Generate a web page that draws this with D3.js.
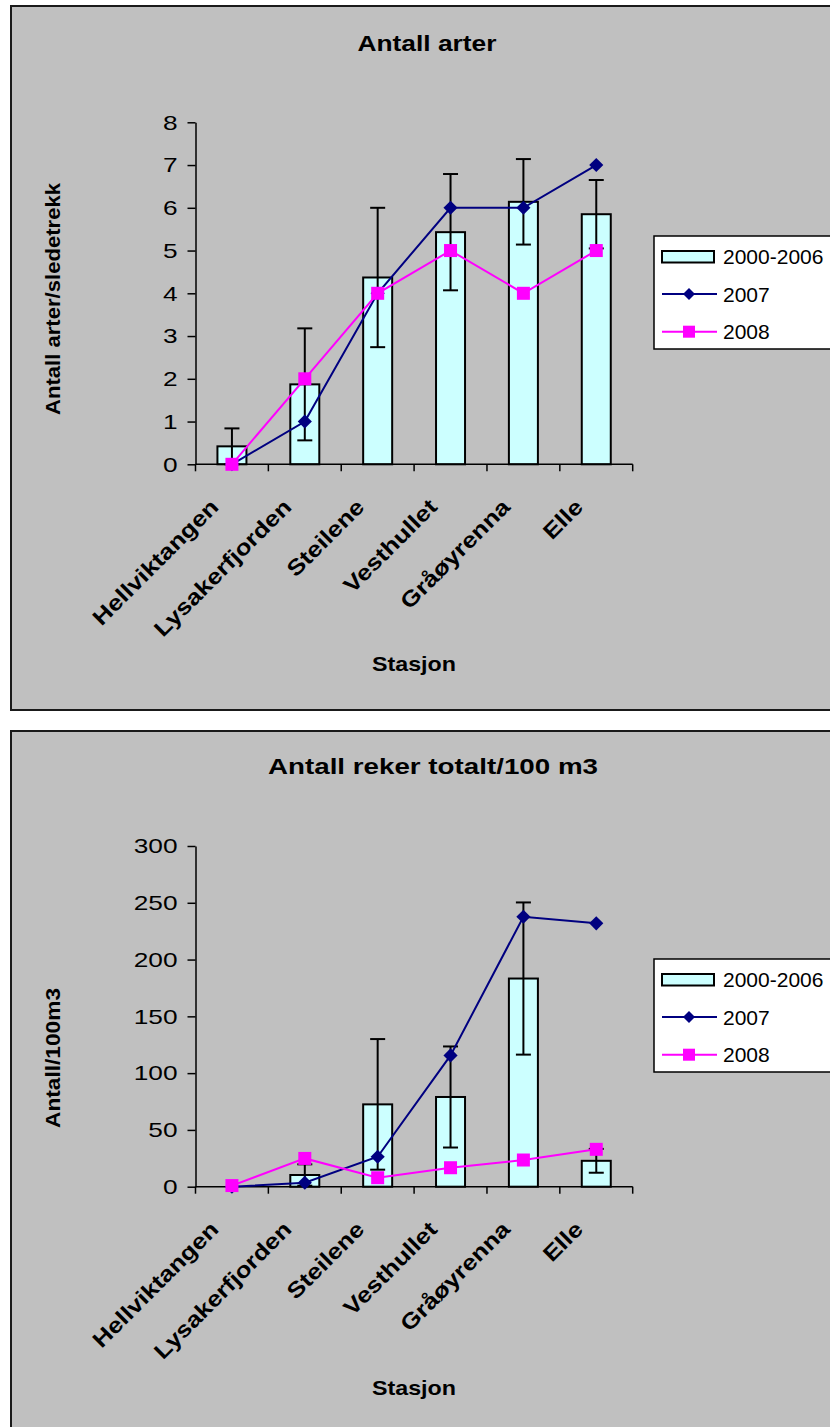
<!DOCTYPE html>
<html>
<head>
<meta charset="utf-8">
<script src="https://cdn.jsdelivr.net/npm/d3@7"></script>
<style>
  body { margin: 0; background: #fff; }
  svg { display: block; font-family: "Liberation Sans", Arial, sans-serif; }
</style>
</head>
<body>
<div id="chart"></div>
<script>
// stations along the x axis
var stations = ["Hellviktangen", "Lysakerfjorden", "Steilene", "Vesthullet", "Gråøyrenna", "Elle"];
var seriesNames = ["2000-2006", "2007", "2008"];

// Antall arter
var arterMean = [0.42, 1.87, 4.37, 5.43, 6.14, 5.85];
var arterErr = [0.42, 1.31, 1.63, 1.36, 1.0, 0.8];
var arter2007 = [0, 1, 4, 6, 6, 7];
var arter2008 = [0, 2, 4, 5, 4, 5];
var arterTicks = [0, 1, 2, 3, 4, 5, 6, 7, 8];

// Antall reker totalt/100 m3
var rekerMean = [0, 10.3, 72.5, 79, 183.3, 22.8];
var rekerErr = [0, 9.4, 57.5, 44.5, 67, 10.5];
var reker2007 = [0, 3.5, 26.4, 115.6, 237.7, 231.9];
var reker2008 = [1, 24.9, 7.9, 16.7, 23.5, 32.9];
var rekerTicks = [0, 50, 100, 150, 200, 250, 300];

var W = 830, H = 1427;

var svg = d3.select("#chart").append("svg")
    .attr("width", W)
    .attr("height", H);

var charts = [
    {
        top: 6, bottom: 710,
        title: "Antall arter", titleX: 427, titleY: 51, titleLen: 139,
        ylabel: "Antall arter/sledetrekk", ylabelLen: 232, ylabelY: 299,
        mean: arterMean, err: arterErr, s2007: arter2007, s2008: arter2008,
        ticks: arterTicks, yMax: 8,
        plotTop: 122.3, plotBottom: 464.3,
        legendY: 236,
        xlabelY: 671
    },
    {
        top: 731, bottom: 1440,
        title: "Antall reker totalt/100 m3", titleX: 433, titleY: 774, titleLen: 330,
        ylabel: "Antall/100m3", ylabelLen: 140, ylabelY: 1058,
        mean: rekerMean, err: rekerErr, s2007: reker2007, s2008: reker2008,
        ticks: rekerTicks, yMax: 300,
        plotTop: 846, plotBottom: 1186.7,
        legendY: 959,
        xlabelY: 1395
    }
];

// stretch text horizontally like the original export does
function widen(sel, factor) {
    sel.each(function() {
        var len = this.getComputedTextLength();
        d3.select(this)
            .attr("textLength", len * factor)
            .attr("lengthAdjust", "spacingAndGlyphs");
    });
}

function drawChart(c) {
    var g = svg.append("g");

    // chart area frame
    g.append("rect")
        .attr("x", 11).attr("y", c.top)
        .attr("width", 840).attr("height", c.bottom - c.top)
        .attr("fill", "#c0c0c0")
        .attr("stroke", "#1a1a1a")
        .attr("stroke-width", 2);

    var x = d3.scaleBand()
        .domain(stations)
        .range([195.5, 632.7])
        .padding(0);

    var y = d3.scaleLinear()
        .domain([0, c.yMax])
        .range([c.plotBottom, c.plotTop]);

    var barW = 29;
    var cx = function(i) { return x(stations[i]) + x.bandwidth() / 2; };

    // y axis
    var yAxis = g.append("g")
        .attr("transform", "translate(195.5,0)")
        .call(d3.axisLeft(y).tickValues(c.ticks).tickSize(8).tickSizeOuter(0).tickPadding(10));
    yAxis.selectAll("text")
        .attr("font-size", 21)
        .attr("font-family", "Liberation Sans, Arial, sans-serif")
        .attr("fill", "#000")
        .call(widen, 1.25);
    yAxis.selectAll("line, path").attr("stroke", "#000").attr("stroke-width", 1.5);

    var barData = c.mean.map(function(m, i) { return { m: m, e: c.err[i], i: i }; });

    // bars
    g.selectAll("rect.bar")
        .data(barData)
        .enter().append("rect")
        .attr("class", "bar")
        .attr("x", function(d) { return cx(d.i) - barW / 2; })
        .attr("y", function(d) { return y(d.m); })
        .attr("width", barW)
        .attr("height", function(d) { return y(0) - y(d.m); })
        .attr("fill", "#ccffff")
        .attr("stroke", "#000")
        .attr("stroke-width", 2);

    // x axis line + ticks at band edges
    g.append("line")
        .attr("x1", x.range()[0]).attr("x2", x.range()[1])
        .attr("y1", y(0)).attr("y2", y(0))
        .attr("stroke", "#000").attr("stroke-width", 1.5);
    var edges = stations.map(function(s) { return x(s); }).concat([x.range()[1]]);
    g.selectAll("line.xtick")
        .data(edges)
        .enter().append("line")
        .attr("x1", function(d) { return d; }).attr("x2", function(d) { return d; })
        .attr("y1", y(0)).attr("y2", y(0) + 7)
        .attr("stroke", "#000").attr("stroke-width", 1.5);

    // error bars
    var eb = g.selectAll("g.err")
        .data(barData.filter(function(d) { return d.e > 0; }))
        .enter().append("g");
    eb.append("line")
        .attr("x1", function(d) { return cx(d.i); })
        .attr("x2", function(d) { return cx(d.i); })
        .attr("y1", function(d) { return y(d.m - d.e); })
        .attr("y2", function(d) { return y(d.m + d.e); })
        .attr("stroke", "#000").attr("stroke-width", 2);
    [-1, 1].forEach(function(sign) {
        eb.append("line")
            .attr("x1", function(d) { return cx(d.i) - 7.5; })
            .attr("x2", function(d) { return cx(d.i) + 7.5; })
            .attr("y1", function(d) { return y(d.m + sign * d.e); })
            .attr("y2", function(d) { return y(d.m + sign * d.e); })
            .attr("stroke", "#000").attr("stroke-width", 2);
    });

    var line = d3.line()
        .x(function(d, i) { return cx(i); })
        .y(function(d) { return y(d); });

    // 2007
    g.append("path")
        .datum(c.s2007)
        .attr("d", line)
        .attr("fill", "none")
        .attr("stroke", "#000080")
        .attr("stroke-width", 2);
    g.selectAll("path.d7")
        .data(c.s2007)
        .enter().append("path")
        .attr("class", "d7")
        .attr("d", d3.symbol(d3.symbolSquare, 100)())
        .attr("transform", function(d, i) {
            return "translate(" + cx(i) + "," + y(d) + ") rotate(45)";
        })
        .attr("fill", "#000080");

    // 2008
    g.append("path")
        .datum(c.s2008)
        .attr("d", line)
        .attr("fill", "none")
        .attr("stroke", "#ff00ff")
        .attr("stroke-width", 2);
    g.selectAll("rect.d8")
        .data(c.s2008)
        .enter().append("rect")
        .attr("class", "d8")
        .attr("x", function(d, i) { return cx(i) - 6.5; })
        .attr("y", function(d) { return y(d) - 6.5; })
        .attr("width", 13).attr("height", 13)
        .attr("fill", "#ff00ff");

    // category labels, rotated
    g.selectAll("text.cat")
        .data(stations)
        .enter().append("text")
        .attr("class", "cat")
        .attr("text-anchor", "end")
        .attr("font-weight", "bold")
        .attr("font-size", 22)
        .attr("transform", function(d) {
            return "translate(" + (x(d) + x.bandwidth() / 2 - 12) + "," + (y(0) + 44) + ") rotate(-45)";
        })
        .text(function(d) { return d; })
        .call(widen, 1.17);

    // title
    g.append("text")
        .attr("x", c.titleX).attr("y", c.titleY)
        .attr("text-anchor", "middle")
        .attr("font-weight", "bold")
        .attr("font-size", 22)
        .attr("textLength", c.titleLen)
        .attr("lengthAdjust", "spacingAndGlyphs")
        .text(c.title);

    // y label
    g.append("text")
        .attr("transform", "translate(60," + c.ylabelY + ") rotate(-90)")
        .attr("text-anchor", "middle")
        .attr("font-weight", "bold")
        .attr("font-size", 21)
        .attr("textLength", c.ylabelLen)
        .attr("lengthAdjust", "spacingAndGlyphs")
        .text(c.ylabel);

    // x label
    g.append("text")
        .attr("x", 414).attr("y", c.xlabelY)
        .attr("text-anchor", "middle")
        .attr("font-weight", "bold")
        .attr("font-size", 21)
        .attr("textLength", 84)
        .attr("lengthAdjust", "spacingAndGlyphs")
        .text("Stasjon");

    // legend
    var lg = g.append("g").attr("transform", "translate(654," + c.legendY + ")");
    lg.append("rect")
        .attr("x", 0).attr("y", 0)
        .attr("width", 200).attr("height", 113)
        .attr("fill", "#fff")
        .attr("stroke", "#000").attr("stroke-width", 1.5);
    lg.append("rect")
        .attr("x", 8).attr("y", 15)
        .attr("width", 52).attr("height", 11.5)
        .attr("fill", "#ccffff")
        .attr("stroke", "#000").attr("stroke-width", 2);
    var lineColors = ["#000080", "#ff00ff"];
    [1, 2].forEach(function(k) {
        var ly = 20.5 + k * 37.6;
        lg.append("line")
            .attr("x1", 8).attr("x2", 63)
            .attr("y1", ly).attr("y2", ly)
            .attr("stroke", lineColors[k - 1]).attr("stroke-width", 2);
        if (k === 1) {
            lg.append("path")
                .attr("d", d3.symbol(d3.symbolSquare, 72)())
                .attr("transform", "translate(35," + ly + ") rotate(45)")
                .attr("fill", lineColors[0]);
        } else {
            lg.append("rect")
                .attr("x", 29).attr("y", ly - 6)
                .attr("width", 12).attr("height", 12)
                .attr("fill", lineColors[1]);
        }
    });
    lg.selectAll("text.leg")
        .data(seriesNames)
        .enter().append("text")
        .attr("class", "leg")
        .attr("x", 69)
        .attr("y", function(d, i) { return 28 + i * 37.6; })
        .attr("font-size", 21)
        .text(function(d) { return d; });
}

charts.forEach(drawChart);
</script>
</body>
</html>
